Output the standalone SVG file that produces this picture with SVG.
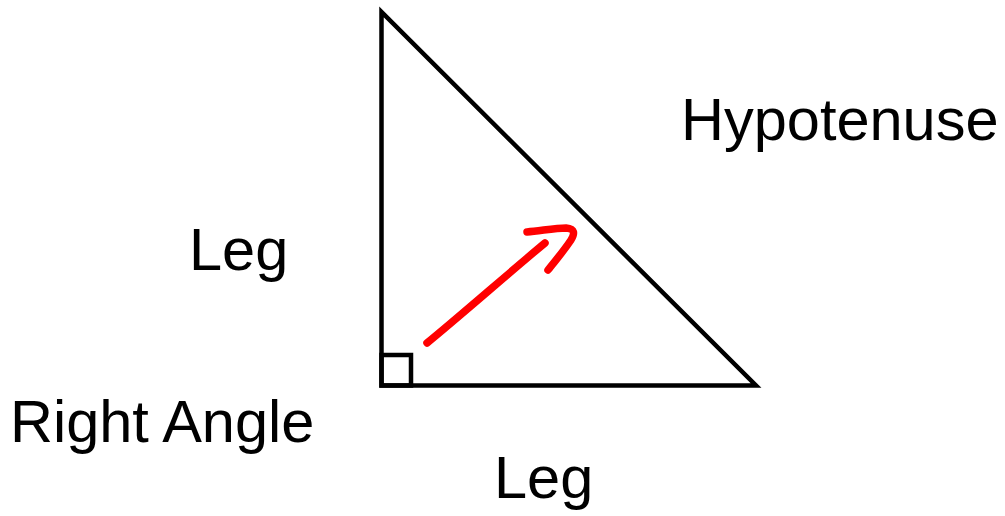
<svg xmlns="http://www.w3.org/2000/svg" width="1005" height="516" viewBox="0 0 1005 516">
<style>
.lbl{font-family:"Liberation Sans",Arial,sans-serif;font-size:59.5px;fill:#000}
.edge{fill:none;stroke:#000;stroke-width:4.5}
.red{fill:none;stroke:#ff0000;stroke-width:7.5;stroke-linecap:round;stroke-linejoin:round}
</style>
<rect width="1005" height="516" fill="#fff"/>
<g id="triangle">
<path class="edge" d="M381.5,12 L381.5,385.5 L756,385.5 Z" stroke-linejoin="miter"/>
<rect class="edge" x="381.5" y="355" width="29.5" height="30.5"/>
</g>
<g id="connectors">
<path class="red" d="M427,343 C460,316 510,272 545,243"/>
<path class="red" d="M527,232 C540,231 555,228 566,228 C575,229 575,233 571,240 C563,252 555,261 548,270"/>
</g>
<g id="hypotenuse"><text class="lbl" x="681" y="140">Hypotenuse</text></g>
<g id="leg-left"><text class="lbl" x="189" y="270">Leg</text></g>
<g id="leg-bottom"><text class="lbl" x="494" y="498">Leg</text></g>
<g id="right-angle"><text class="lbl" x="10" y="442">Right Angle</text></g>
</svg>
